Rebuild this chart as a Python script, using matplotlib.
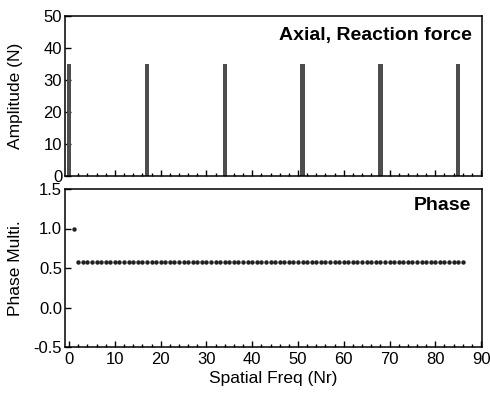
import matplotlib
matplotlib.use("Agg")
import matplotlib.pyplot as plt
from matplotlib.ticker import MultipleLocator
import numpy as np

plt.rcParams["font.family"] = ["Liberation Sans", "DejaVu Sans"]

# amplitude spectrum (peaks every 17 orders)
amp_freq = [0, 17, 34, 51, 68, 85]
amp_vals = [35, 35, 35, 35, 35, 35]

# phase multiplier
phase_freq = list(range(1, 87))
phase_vals = [1.0] + [0.57] * 85

BAR_COL = "#4d4d4d"
DOT_COL = "#222222"

fig = plt.figure(figsize=(4.9, 3.94), dpi=100)
ax1 = fig.add_axes([65 / 490, 1 - 176 / 394, 417 / 490, 160 / 394])
ax2 = fig.add_axes([65 / 490, 1 - 347 / 394, 417 / 490, 158 / 394])

ax1.bar(amp_freq, amp_vals, width=0.95, color=BAR_COL, zorder=2)
ax1.set_ylim(0, 50)
ax1.set_yticks([0, 10, 20, 30, 40, 50])
ax1.set_ylabel("Amplitude (N)", fontsize=12.5)
ax1.text(0.975, 0.93, "Axial, Reaction force", transform=ax1.transAxes,
         ha="right", va="top", fontsize=14, fontweight="bold")
ax1.tick_params(labelbottom=False)

ax2.plot(phase_freq, phase_vals, "o", color=DOT_COL, markersize=3.2,
         markeredgewidth=0)
ax2.set_ylim(-0.5, 1.5)
ax2.set_yticks([-0.5, 0.0, 0.5, 1.0, 1.5])
ax2.set_yticklabels(["-0.5", "0.0", "0.5", "1.0", "1.5"])
ax2.set_ylabel("Phase Multi.", fontsize=12.5)
ax2.set_xlabel("Spatial Freq (Nr)", fontsize=12.5, labelpad=3)
ax2.text(0.975, 0.95, "Phase", transform=ax2.transAxes,
         ha="right", va="top", fontsize=14, fontweight="bold")

for ax in (ax1, ax2):
    ax.set_xlim(-0.9, 90.2)
    ax.set_xticks(np.arange(0, 91, 10))
    ax.xaxis.set_minor_locator(MultipleLocator(2))
    ax.tick_params(axis="both", which="major", direction="in", length=4,
                   width=1, labelsize=12, colors="black")
    ax.tick_params(axis="x", which="minor", direction="in", length=2, width=1)
    ax.tick_params(axis="y", which="minor", left=False)
    ax.tick_params(axis="y", pad=2)
    for sp in ax.spines.values():
        sp.set_linewidth(1.1)
    ax.yaxis.set_label_coords(-0.10, 0.5)

fig.savefig("out.png", dpi=100)
